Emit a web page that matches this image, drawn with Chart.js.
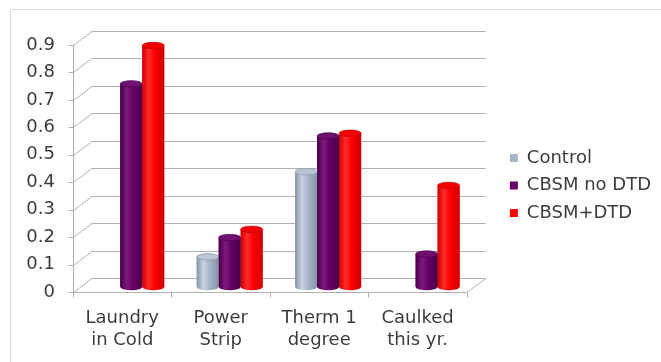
<!DOCTYPE html>
<html>
<head>
<meta charset="utf-8">
<script src="https://cdn.jsdelivr.net/npm/chart.js@4/dist/chart.umd.min.js"></script>
<style>
  html, body { margin: 0; padding: 0; background: #ffffff; }
  #wrap { width: 661px; height: 362px; }
</style>
</head>
<body>
<div id="wrap"><canvas id="c" width="661" height="362"></canvas></div>
<script>
// Categories (two-line labels) and series
const categories = [['Laundry', 'in Cold'], ['Power', 'Strip'], ['Therm 1', 'degree'], ['Caulked', 'this yr.']];
const seriesNames = ['Control', 'CBSM no DTD', 'CBSM+DTD'];
const controlValues = [null, 0.11, 0.42, null];
const noDtdValues = [0.74, 0.18, 0.55, 0.12];
const dtdValues = [0.88, 0.21, 0.56, 0.37];
const yTickLabels = ['0', '0.1', '0.2', '0.3', '0.4', '0.5', '0.6', '0.7', '0.8', '0.9'];

const seriesColors = ['#a7b7ca', '#660066', '#ff0000'];
const shades = [
  { edge: '#8494a8', light: '#c8d3df', mid: '#a9b8ca', cap: '#bac6d4', capEdge: '#8e9db0' },
  { edge: '#460046', light: '#7d1a7d', mid: '#660066', cap: '#701070', capEdge: '#4e004e' },
  { edge: '#cf0000', light: '#ff2b2b', mid: '#ff0000', cap: '#f00000', capEdge: '#c80000' }
];

const TEXT = '#3c3c3c';
const GRID = '#b0b0b0';
const FONT_SIZE = 18;
// floor depth: front edge and back wall relative to the plane the columns stand on
const FRONT = { dx: -9, dy: 5 };
const BACK = { dx: 10, dy: -9 };

Chart.defaults.font.family = '"DejaVu Sans", Verdana, sans-serif';
Chart.defaults.color = TEXT;

const wallPlugin = {
  id: 'wall3d',
  beforeDraw(chart) {
    const ctx = chart.ctx;
    ctx.save();
    ctx.strokeStyle = '#d9d9d9';
    ctx.lineWidth = 1;
    ctx.beginPath();
    ctx.moveTo(10.5, chart.height);
    ctx.lineTo(10.5, 9.5);
    ctx.lineTo(chart.width, 9.5);
    ctx.stroke();
    ctx.restore();
  },
  beforeDatasetsDraw(chart) {
    const { ctx, chartArea: a, scales: { x, y } } = chart;
    const L = a.left, R = a.right;
    ctx.save();
    ctx.lineWidth = 1;
    ctx.strokeStyle = GRID;
    // value lines: tick on the front axis, diagonal up the side wall, line across the back wall
    y.ticks.forEach(t => {
      const py = y.getPixelForValue(t.value);
      const fy = Math.round(py + FRONT.dy) + 0.5;
      const by = Math.round(py + BACK.dy) + 0.5;
      const fx = Math.round(L + FRONT.dx) + 0.5;
      ctx.beginPath();
      ctx.moveTo(fx - 5, fy);
      ctx.lineTo(fx, fy);
      ctx.lineTo(L + BACK.dx, by);
      ctx.lineTo(R + BACK.dx, by);
      ctx.stroke();
    });
    // front vertical axis
    const fx = Math.round(L + FRONT.dx) + 0.5;
    const yTop = Math.round(y.getPixelForValue(y.max) + FRONT.dy) + 0.5;
    const y0 = Math.round(y.getPixelForValue(0) + FRONT.dy) + 0.5;
    ctx.beginPath();
    ctx.moveTo(fx, yTop);
    ctx.lineTo(fx, y0);
    // front edge of the floor
    ctx.lineTo(R + FRONT.dx, y0);
    // right edge of the floor
    ctx.lineTo(R + BACK.dx, Math.round(y.getPixelForValue(0) + BACK.dy) + 0.5);
    ctx.stroke();
    // category separators on the front edge
    for (let i = 0; i <= categories.length; i++) {
      const px = Math.round(x.getPixelForValue(i - 0.5) + FRONT.dx) + 0.5;
      ctx.beginPath();
      ctx.moveTo(px, y0);
      ctx.lineTo(px, y0 + 5);
      ctx.stroke();
    }
    ctx.restore();
  }
};

// cylinder shading over each column
const cylinderPlugin = {
  id: 'cylinders',
  afterDatasetsDraw(chart) {
    const ctx = chart.ctx;
    chart.data.datasets.forEach((ds, di) => {
      const meta = chart.getDatasetMeta(di);
      if (meta.hidden) return;
      const pal = shades[di];
      meta.data.forEach((bar, i) => {
        if (ds.data[i] == null) return;
        const { x, y, base, width } = bar.getProps(['x', 'y', 'base', 'width'], true);
        const l = x - width / 2, r = x + width / 2, rx = width / 2, ry = 3.2;
        const g = ctx.createLinearGradient(l, 0, r, 0);
        g.addColorStop(0, pal.edge);
        g.addColorStop(0.3, pal.light);
        g.addColorStop(0.55, pal.mid);
        g.addColorStop(1, pal.edge);
        ctx.save();
        ctx.fillStyle = g;
        ctx.beginPath();
        ctx.moveTo(l, y);
        ctx.lineTo(l, base);
        ctx.ellipse(x, base, rx, ry, 0, Math.PI, 0, true);
        ctx.lineTo(r, y);
        ctx.ellipse(x, y, rx, ry, 0, 0, Math.PI, false);
        ctx.closePath();
        ctx.fill();
        ctx.beginPath();
        ctx.ellipse(x, y, rx, ry, 0, 0, Math.PI * 2);
        ctx.fillStyle = pal.cap;
        ctx.fill();
        ctx.strokeStyle = pal.capEdge;
        ctx.lineWidth = 0.8;
        ctx.stroke();
        ctx.restore();
      });
    });
  }
};

const seriesValues = [controlValues, noDtdValues, dtdValues];

new Chart(document.getElementById('c'), {
  type: 'bar',
  data: {
    labels: categories,
    datasets: seriesNames.map((name, i) => ({
      label: name,
      data: seriesValues[i],
      backgroundColor: seriesColors[i],
      borderWidth: 0,
      barPercentage: 1.0,
      categoryPercentage: 0.67
    }))
  },
  options: {
    responsive: false,
    animation: false,
    devicePixelRatio: 1,
    layout: { padding: { top: 9, left: 0, right: 0, bottom: 0 } },
    plugins: {
      legend: {
        position: 'right',
        align: 'center',
        maxWidth: 220,
        labels: {
          boxWidth: 8,
          boxHeight: 8,
          padding: 9.5,
          color: TEXT,
          font: { size: FONT_SIZE }
        }
      },
      tooltip: { enabled: false }
    },
    scales: {
      x: {
        type: 'category',
        offset: true,
        grid: { display: false, drawTicks: false },
        border: { display: false },
        ticks: {
          color: TEXT,
          font: { size: FONT_SIZE },
          padding: 21,
          labelOffset: FRONT.dx,
          maxRotation: 0,
          autoSkip: false
        },
        afterFit(s) { s.height = 75; }
      },
      xTop: {
        type: 'category',
        position: 'top',
        display: true,
        grid: { display: false, drawTicks: false },
        border: { display: false },
        ticks: { display: false },
        afterFit(s) { s.height = 31; }
      },
      y: {
        min: 0,
        max: 0.9,
        grid: { display: false, drawTicks: false },
        border: { display: false },
        ticks: {
          stepSize: 0.1,
          color: TEXT,
          font: { size: FONT_SIZE },
          padding: 27,
          labelOffset: FRONT.dy,
          callback: (v, i) => yTickLabels[i] ?? v
        },
        afterFit(s) { s.width = 82; }
      },
      yRight: {
        type: 'linear',
        position: 'right',
        display: true,
        grid: { display: false, drawTicks: false },
        border: { display: false },
        ticks: { display: false },
        afterFit(s) { s.width = 24.5; }
      }
    }
  },
  plugins: [wallPlugin, cylinderPlugin]
});
</script>
</body>
</html>
